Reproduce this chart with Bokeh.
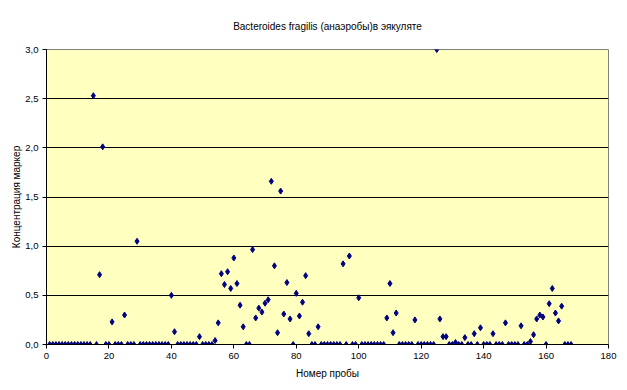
from bokeh.plotting import figure
from bokeh.models import Range1d, FixedTicker, CustomJSTickFormatter, Title
from bokeh.embed import file_html
from bokeh.resources import INLINE

title_text = "Bacteroides fragilis (анаэробы)в эякуляте"
x_label = "Номер пробы"
y_label = "Концентрация маркер"

sample_no = list(range(1, 169))
values = (
    [0]*14 + [2.53, 0, 0.71, 2.01, 0, 0, 0.23, 0, 0, 0, 0.30, 0, 0, 0, 1.05]
    + [0]*10 + [0.50, 0.13] + [0]*7 + [0.08, 0, 0, 0, 0, 0.04, 0.22, 0.72, 0.61, 0.74,
    0.57, 0.88, 0.62, 0.40, 0.18, 0, 0, 0.965, 0.27, 0.37, 0.33, 0.42, 0.455, 1.66,
    0.80, 0.12, 1.56, 0.31, 0.63, 0.26, 0, 0.52, 0.29, 0.43, 0.70, 0.11, 0, 0, 0.18]
    + [0]*7 + [0.82, 0, 0.90, 0, 0, 0.475] + [0]*8 + [0.27, 0.62, 0.12, 0.32]
    + [0]*5 + [0.25] + [0]*6 + [3.0, 0.26, 0.08, 0.08, 0, 0, 0.02, 0, 0, 0.07, 0, 0,
    0.11, 0, 0.17, 0, 0, 0, 0.11, 0, 0, 0, 0.22, 0, 0, 0, 0, 0.19, 0, 0, 0.03, 0.10,
    0.26, 0.30, 0.28, 0, 0.415, 0.57, 0.32, 0.24, 0.39, 0, 0, 0]
)
assert len(values) == len(sample_no), len(values)

x_ticks = [0, 20, 40, 60, 80, 100, 120, 140, 160, 180]
y_ticks = [0.0, 0.5, 1.0, 1.5, 2.0, 2.5, 3.0]

FONT = "Liberation Sans"

p = figure(frame_width=562, frame_height=295, output_backend="svg", toolbar_location=None,
           x_range=Range1d(0, 180), y_range=Range1d(0, 3.0), title=None,
           min_border_left=46, min_border_right=11, min_border_top=0, min_border_bottom=0)
p.add_layout(Title(text=title_text, align="center", text_font=FONT, text_font_size="10px",
                   text_font_style="normal", text_color="black", standoff=36), "above")

p.background_fill_color = "white"
p.border_fill_color = "white"
p.outline_line_color = "#808080"
p.outline_line_width = 1

p.xaxis.ticker = FixedTicker(ticks=x_ticks)
p.yaxis.ticker = FixedTicker(ticks=y_ticks)
p.yaxis.formatter = CustomJSTickFormatter(code="return tick.toFixed(1).replace('.', ',');")
for ax in (p.xaxis[0], p.yaxis[0]):
    ax.axis_line_color = "black"
    ax.major_tick_line_color = "black"
    ax.major_tick_out = 4
    ax.major_tick_in = 0
    ax.minor_tick_line_color = None
    ax.major_label_text_font = FONT
    ax.major_label_text_font_size = "9.5px"
    ax.major_label_text_color = "black"
    ax.major_label_standoff = 4
    ax.axis_label_text_font = FONT
    ax.axis_label_text_font_size = "10px"
    ax.axis_label_text_font_style = "normal"
    ax.axis_label_text_color = "black"
p.xaxis.axis_label = x_label
p.yaxis.axis_label = y_label
p.xaxis.axis_label_standoff = 6
p.yaxis.axis_label_standoff = 0

p.xgrid.grid_line_color = None
p.ygrid.ticker = FixedTicker(ticks=[0.5, 1.0, 1.5, 2.0, 2.5])
p.ygrid.grid_line_color = "black"
p.ygrid.grid_line_width = 1

p.background_fill_color = "#FFFFC0"

p.scatter(sample_no, values, marker="diamond", size=6, fill_color="#000080",
          line_color="#000080")

open("out.html", "w").write(file_html(p, INLINE))
